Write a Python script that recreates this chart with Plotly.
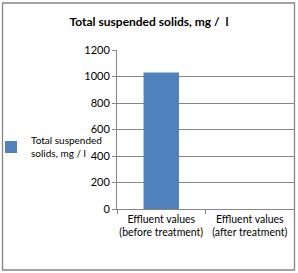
import plotly.graph_objects as go

categories = ["Effluent values<br>(before treatment)", "Effluent values<br>(after treatment)"]
series_name = "Total suspended<br>solids, mg / l"
values = [1030, 0]
title_text = "Total suspended solids, mg /  l"

W, H = 298, 273
L, R, T, B = 117, 4, 50, 64
pw, ph = W - L - R, H - T - B

def px(x):
    return (x - L) / pw

def py(y):
    return (H - B - y) / ph

GRID = "#868686"
FONT = "Lato"

fig = go.Figure()
fig.add_trace(go.Bar(
    x=categories, y=values, name=series_name,
    marker=dict(color="#4F81BD", line=dict(width=0)),
    width=0.4, showlegend=True,
))

fig.update_layout(
    width=W, height=H,
    margin=dict(l=L, r=R, t=T, b=B, pad=0, autoexpand=False),
    paper_bgcolor="white", plot_bgcolor="white",
    font=dict(family=FONT, size=11, color="black"),
    title=dict(text="<b>" + title_text + "</b>", x=0.5, xref="container", xanchor="center",
               y=1 - 22 / H, yref="container", yanchor="middle",
               font=dict(family=FONT, size=12, color="black")),
    showlegend=True,
    legend=dict(x=px(-9), xref="paper", xanchor="left", y=py(147), yanchor="middle",
                bgcolor="rgba(0,0,0,0)", font=dict(family=FONT, size=10),
                itemwidth=30, tracegroupgap=0),
    bargap=0.6,
)
fig.update_yaxes(range=[0, 1200], dtick=200, showgrid=True, gridcolor=GRID, gridwidth=1,
                 showline=True, linecolor=GRID, linewidth=1, ticks="outside", ticklen=4,
                 tickcolor=GRID, zeroline=False, tickfont=dict(family=FONT, size=11),
                 automargin=False)
fig.update_xaxes(showline=True, linecolor=GRID, linewidth=1, ticks="outside", ticklen=4,
                 tickcolor=GRID, tickson="boundaries", showgrid=False, tickangle=0,
                 tickfont=dict(family=FONT, size=10.5), automargin=False)

fig.add_shape(type="rect", xref="paper", yref="paper",
              x0=px(2.5), x1=px(294.5), y0=py(270), y1=py(3),
              line=dict(color=GRID, width=1.3), fillcolor="rgba(0,0,0,0)", layer="above")

fig.write_html("out.html")
